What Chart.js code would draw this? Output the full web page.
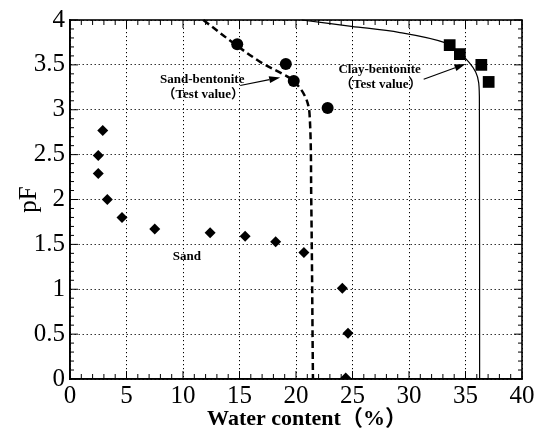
<!DOCTYPE html>
<html>
<head>
<meta charset="utf-8">
<script src="https://cdn.jsdelivr.net/npm/chart.js@4.4.1/dist/chart.umd.min.js"></script>
<style>
  html, body { margin: 0; padding: 0; background: #fff; }
  #wrap { width: 542px; height: 435px; }
</style>
</head>
<body>
<div id="wrap"><canvas id="chart" width="542" height="435"></canvas></div>
<script>
// Axis ticks
const xTicks = [0, 5, 10, 15, 20, 25, 30, 35, 40];
const yTicks = [0, 0.5, 1, 1.5, 2, 2.5, 3, 3.5, 4];

// Sand (diamonds)
const sandX = [2.9, 2.5, 2.5, 3.3, 4.6, 7.5, 12.4, 15.5, 18.2, 20.7, 24.1, 24.6, 24.4];
const sandY = [2.77, 2.49, 2.29, 2.0, 1.80, 1.67, 1.63, 1.59, 1.53, 1.41, 1.01, 0.51, 0.01];

// Sand-bentonite test values (circles)
const sbX = [14.8, 19.1, 19.8, 22.8];
const sbY = [3.73, 3.51, 3.32, 3.02];

// Clay-bentonite test values (squares)
const cbX = [33.6, 34.5, 36.4, 37.05];
const cbY = [3.72, 3.62, 3.5, 3.31];

// Fitted curves
const sbCurveX = [11.8, 14.6, 17.0, 18.8, 19.8, 20.8, 21.2, 21.35, 21.5];
const sbCurveY = [4.0, 3.73, 3.52, 3.40, 3.32, 3.15, 2.95, 2.0, 0];
const cbCurveX = [20.5, 24.9, 29.2, 33.1, 34.5, 35.3, 35.9, 36.17, 36.23, 36.25];
const cbCurveY = [4.0, 3.93, 3.86, 3.75, 3.63, 3.53, 3.42, 3.3, 3.02, 0];

// Annotations (data coordinates)
const noteTexts = ['Sand-bentonite', '（Test value）', 'Clay-bentonite', '（Test value）', 'Sand'];
const noteX = [11.7, 11.8, 27.4, 27.5, 10.35];
const noteY = [3.34, 3.17, 3.45, 3.28, 1.36];
const arrowFrom = [[15.06, 3.27], [31.3, 3.34]];
const arrowTo = [[18.6, 3.36], [35.0, 3.51]];

const serif = "'Liberation Serif', 'Times New Roman', 'Noto Sans CJK JP', serif";
const pts = (xs, ys) => xs.map((x, i) => ({ x: x, y: ys[i] }));

// box around plot + inward minor ticks on all four sides
const framePlugin = {
    id: 'frame',
    beforeDatasetsDraw(chart) {
        const { ctx, chartArea: a, scales: { x, y } } = chart;
        ctx.save();
        ctx.strokeStyle = '#000';
        ctx.lineWidth = 1;
        ctx.beginPath();
        for (let v = 0; v <= 40; v++) {
            const px = x.getPixelForValue(v);
            const len = v % 5 === 0 ? 8 : 5;
            ctx.moveTo(px, a.bottom); ctx.lineTo(px, a.bottom - len);
            ctx.moveTo(px, a.top); ctx.lineTo(px, a.top + len);
        }
        for (let i = 0; i <= 40; i++) {
            const py = y.getPixelForValue(i / 10);
            const len = i % 5 === 0 ? 8 : 4;
            ctx.moveTo(a.left, py); ctx.lineTo(a.left + len, py);
            ctx.moveTo(a.right, py); ctx.lineTo(a.right - len, py);
        }
        ctx.stroke();
        ctx.lineWidth = 1.6;
        ctx.strokeRect(a.left, a.top, a.right - a.left, a.bottom - a.top);
        ctx.restore();
    }
};

// text labels and arrows
const notesPlugin = {
    id: 'notes',
    afterDatasetsDraw(chart) {
        const { ctx, scales: { x, y } } = chart;
        ctx.save();
        ctx.fillStyle = '#000';
        ctx.strokeStyle = '#000';
        ctx.textAlign = 'center';
        ctx.textBaseline = 'middle';
        ctx.font = 'bold 13px ' + serif;
        noteTexts.forEach((t, i) => {
            ctx.fillText(t, x.getPixelForValue(noteX[i]), y.getPixelForValue(noteY[i]));
        });

        ctx.lineWidth = 1.2;
        arrowFrom.forEach((f, i) => {
            const x1 = x.getPixelForValue(f[0]), y1 = y.getPixelForValue(f[1]);
            const x2 = x.getPixelForValue(arrowTo[i][0]), y2 = y.getPixelForValue(arrowTo[i][1]);
            const ang = Math.atan2(y2 - y1, x2 - x1);
            const hl = 11, hw = 3.5;
            const bx = x2 - hl * Math.cos(ang), by = y2 - hl * Math.sin(ang);
            ctx.beginPath();
            ctx.moveTo(x1, y1);
            ctx.lineTo(bx, by);
            ctx.stroke();
            ctx.beginPath();
            ctx.moveTo(x2, y2);
            ctx.lineTo(bx + hw * Math.sin(ang), by - hw * Math.cos(ang));
            ctx.lineTo(bx - hw * Math.sin(ang), by + hw * Math.cos(ang));
            ctx.closePath();
            ctx.fill();
        });
        ctx.restore();
    }
};

const ctx = document.getElementById('chart');

new Chart(ctx, {
    type: 'scatter',
    data: {
        datasets: [{
            label: 'Sand',
            data: pts(sandX, sandY),
            pointStyle: 'rectRot',
            pointRadius: 5.5,
            backgroundColor: '#000',
            borderColor: '#000',
            borderWidth: 0
        }, {
            label: 'Sand-bentonite',
            data: pts(sbX, sbY),
            pointStyle: 'circle',
            pointRadius: 6,
            backgroundColor: '#000',
            borderColor: '#000',
            borderWidth: 0
        }, {
            label: 'Clay-bentonite',
            data: pts(cbX, cbY),
            pointStyle: 'rect',
            pointRadius: 8.3,
            backgroundColor: '#000',
            borderColor: '#000',
            borderWidth: 0
        }, {
            label: 'Sand-bentonite curve',
            data: pts(sbCurveX, sbCurveY),
            showLine: true,
            pointRadius: 0,
            borderColor: '#000',
            borderWidth: 2.5,
            borderDash: [7, 4],
            tension: 0.35,
            clip: false
        }, {
            label: 'Clay-bentonite curve',
            data: pts(cbCurveX, cbCurveY),
            showLine: true,
            pointRadius: 0,
            borderColor: '#000',
            borderWidth: 1.2,
            tension: 0.35,
            clip: false
        }]
    },
    options: {
        responsive: false,
        animation: false,
        layout: { padding: { top: 18, right: 20, left: 0, bottom: 0 } },
        plugins: {
            legend: { display: false },
            tooltip: { enabled: false }
        },
        scales: {
            x: {
                type: 'linear',
                min: 0,
                max: 40,
                afterBuildTicks: (s) => { s.ticks = xTicks.map(v => ({ value: v })); },
                afterFit: (s) => { s.height = 56; },
                ticks: {
                    color: '#000',
                    padding: 2,
                    maxRotation: 0,
                    font: { family: serif, size: 25 },
                    callback: (v) => String(v)
                },
                grid: { color: '#000', lineWidth: 1, drawTicks: false },
                border: { display: true, color: '#000', width: 1.6, dash: [1.2, 2.8] },
                title: {
                    display: true,
                    text: '\u2003Water content（%）',
                    color: '#000',
                    font: { family: serif, size: 22, weight: 'bold' },
                    padding: { top: 0, bottom: 2 }
                }
            },
            y: {
                type: 'linear',
                min: 0,
                max: 4,
                afterBuildTicks: (s) => { s.ticks = yTicks.map(v => ({ value: v })); },
                afterFit: (s) => { s.width = 70; },
                ticks: {
                    color: '#000',
                    padding: 5,
                    font: { family: serif, size: 25 },
                    callback: (v) => String(v)
                },
                grid: { color: '#000', lineWidth: 1, drawTicks: false },
                border: { display: true, color: '#000', width: 1.6, dash: [1.2, 2.8] },
                title: {
                    display: true,
                    text: 'pF',
                    color: '#000',
                    font: { family: serif, size: 25 },
                    padding: { top: 14, bottom: 0 }
                }
            }
        }
    },
    plugins: [framePlugin, notesPlugin]
});
</script>
</body>
</html>
